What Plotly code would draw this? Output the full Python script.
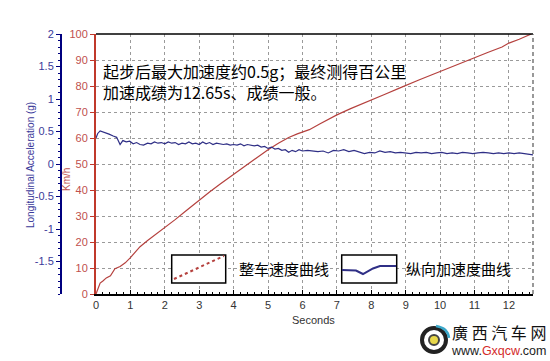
import plotly.graph_objects as go

# ---------------- data ----------------
speed_t = [0.00, 0.06, 0.12, 0.20, 0.30, 0.42, 0.55, 0.70, 0.85, 1.00, 1.15, 1.28, 1.50, 1.75,
           2.00, 2.30, 2.60, 3.00, 3.30, 3.60, 4.00, 4.40, 4.70, 5.00, 5.30, 5.60, 5.85, 6.20,
           6.50, 6.80, 7.00, 7.40, 7.80, 8.00, 8.40, 8.80, 9.00, 9.40, 9.80, 10.00, 10.40, 10.80,
           11.00, 11.40, 11.80, 12.00, 12.30, 12.65]
speed_v = [0.0, 2.5, 4.2, 5.0, 6.2, 7.0, 9.7, 10.6, 12.0, 14.0, 16.2, 18.2, 20.6, 23.0,
           25.4, 28.6, 31.8, 36.2, 39.2, 42.2, 46.0, 49.8, 52.7, 55.5, 58.0, 60.2, 61.6, 63.2,
           65.4, 67.6, 68.9, 71.3, 73.4, 74.6, 76.8, 79.1, 80.3, 82.4, 84.5, 85.6, 87.7, 89.8,
           90.9, 93.0, 95.0, 96.5, 98.0, 100.0]

acc_t = [0.00, 0.05, 0.12, 0.25, 0.38, 0.50, 0.60, 0.70, 0.78, 0.88, 0.98, 1.08, 1.18, 1.28,
         1.38, 1.50, 1.60, 1.70, 1.80, 1.90, 2.00, 2.10, 2.20, 2.30, 2.40, 2.50, 2.60, 2.70,
         2.80, 2.90, 3.00, 3.10, 3.20, 3.30, 3.40, 3.50, 3.60, 3.70, 3.80, 3.90, 4.00, 4.10,
         4.20, 4.30, 4.40, 4.50, 4.60, 4.70, 4.80, 4.90, 5.00, 5.10, 5.20, 5.30, 5.40, 5.50,
         5.60, 5.70, 5.80, 5.90, 6.00, 6.15, 6.30, 6.45, 6.60, 6.75, 6.90, 7.05, 7.20, 7.35,
         7.50, 7.65, 7.80, 7.95, 8.10, 8.25, 8.40, 8.55, 8.70, 8.85, 9.00, 9.15, 9.30, 9.45,
         9.60, 9.75, 9.90, 10.05, 10.20, 10.35, 10.50, 10.65, 10.80, 10.95, 11.10, 11.25,
         11.40, 11.55, 11.70, 11.85, 12.00, 12.15, 12.30, 12.45, 12.60, 12.70]
acc_g = [0.40, 0.47, 0.51, 0.49, 0.46, 0.43, 0.41, 0.30, 0.36, 0.34, 0.35, 0.31, 0.33, 0.30,
         0.29, 0.32, 0.31, 0.34, 0.32, 0.33, 0.31, 0.34, 0.32, 0.33, 0.30, 0.32, 0.31, 0.34,
         0.31, 0.32, 0.30, 0.34, 0.31, 0.33, 0.30, 0.32, 0.31, 0.30, 0.31, 0.29, 0.30, 0.29,
         0.31, 0.28, 0.30, 0.29, 0.28, 0.29, 0.26, 0.27, 0.24, 0.26, 0.23, 0.24, 0.21, 0.22,
         0.18, 0.21, 0.19, 0.22, 0.20, 0.21, 0.20, 0.19, 0.20, 0.17, 0.21, 0.20, 0.22, 0.19,
         0.21, 0.18, 0.16, 0.18, 0.17, 0.20, 0.18, 0.19, 0.17, 0.18, 0.17, 0.16, 0.18, 0.17,
         0.18, 0.16, 0.17, 0.18, 0.16, 0.17, 0.16, 0.18, 0.17, 0.16, 0.17, 0.18,
         0.17, 0.16, 0.17, 0.16, 0.17, 0.16, 0.17, 0.16, 0.15, 0.14]

x_ticks = list(range(0, 13))
speed_ticks = list(range(0, 101, 10))
acc_ticks = [-1.5, -1, -0.5, 0, 0.5, 1, 1.5, 2]
acc_labels = ["-1.5", "-1", "-0.5", "0", "0.5", "1", "1.5", "2"]

note_line1 = "起步后最大加速度约0.5g；最终测得百公里"
note_line2 = "加速成绩为12.65s、成绩一般。"
legend_speed = "整车速度曲线"
legend_acc = "纵向加速度曲线"

# ---------------- layout helpers ----------------
W, H = 550, 361
ML, MR, MT, MB = 50, 17, 34, 67
PW = W - ML - MR
PH = H - MT - MB


def px(x):
    return (x - ML) / PW


def py(y):
    return (H - MB - y) / PH


RED = "#b5413e"
RED_TXT = "#c0504d"
NAVY = "#00007f"
BLUE_LINE = "#2f2f86"
BLUE_TXT = "#3a3a9a"
CJK = "Noto Sans CJK SC"
SANS = "Liberation Sans, Arial, sans-serif"

fig = go.Figure()
fig.add_trace(go.Scatter(x=speed_t, y=speed_v, mode="lines",
                         line=dict(color=RED, width=1.2), yaxis="y", showlegend=False))
fig.add_trace(go.Scatter(x=acc_t, y=acc_g, mode="lines",
                         line=dict(color=BLUE_LINE, width=1.2), yaxis="y2", showlegend=False))

fig.update_layout(
    width=W, height=H,
    margin=dict(l=ML, r=MR, t=MT, b=MB),
    paper_bgcolor="white", plot_bgcolor="white",
    showlegend=False,
    xaxis=dict(domain=[px(96), 1], range=[0, 12.7], tickvals=x_ticks,
               showline=True, linecolor="black", linewidth=2,
               ticks="inside", ticklen=4, tickcolor="black",
               minor=dict(dtick=0.2, ticks="inside", ticklen=2, tickcolor="black", showgrid=False),
               showgrid=True, gridcolor="#9a9a9a", griddash="3px,3px", gridwidth=1,
               zeroline=False, tickfont=dict(family=SANS, size=11, color="#333")),
    yaxis=dict(range=[0, 100], tickvals=speed_ticks, side="left",
               showline=True, linecolor="#c0392b", linewidth=2,
               ticks="outside", ticklen=4, tickcolor="#c0392b",
               showgrid=True, gridcolor="#9a9a9a", griddash="3px,3px", gridwidth=1,
               zeroline=False, tickfont=dict(family=SANS, size=11, color=RED_TXT)),
    yaxis2=dict(range=[-2, 2], overlaying="y", side="left", anchor="free", position=px(61),
                tickvals=acc_ticks, ticktext=acc_labels,
                showline=True, linecolor=NAVY, linewidth=2,
                ticks="outside", ticklen=4, tickcolor=NAVY,
                minor=dict(dtick=0.1, ticks="outside", ticklen=2, tickcolor=NAVY),
                showgrid=False, zeroline=False,
                tickfont=dict(family=SANS, size=11, color=BLUE_TXT)),
)

shapes = []
# top border and right dashed border
shapes.append(dict(type="line", xref="paper", yref="paper", x0=px(96), x1=1, y0=1, y1=1,
                   line=dict(color="black", width=1.5)))
shapes.append(dict(type="line", xref="paper", yref="paper", x0=1, x1=1, y0=0, y1=1,
                   line=dict(color="#555", width=1.2, dash="4px,3px")))
# legend boxes
shapes.append(dict(type="rect", xref="paper", yref="paper", x0=px(171.7), x1=px(225.7),
                   y0=py(283), y1=py(255), line=dict(color="black", width=1.5), fillcolor="white"))
shapes.append(dict(type="line", xref="paper", yref="paper", x0=px(174), x1=px(224),
                   y0=py(279), y1=py(256), line=dict(color=RED, width=2, dash="dot")))
shapes.append(dict(type="rect", xref="paper", yref="paper", x0=px(341.7), x1=px(396.7),
                   y0=py(283), y1=py(255), line=dict(color="black", width=1.5), fillcolor="white"))
path = "M {:.4f},{:.4f} L {:.4f},{:.4f} L {:.4f},{:.4f} L {:.4f},{:.4f} L {:.4f},{:.4f} L {:.4f},{:.4f}".format(
    px(342), py(270), px(356), py(270.5), px(363), py(274), px(373), py(268.5), px(380), py(266), px(396), py(266))
shapes.append(dict(type="path", xref="paper", yref="paper", path=path,
                   line=dict(color=BLUE_LINE, width=2)))
# watermark logo
shapes.append(dict(type="circle", xref="paper", yref="paper", x0=px(422), x1=px(446),
                   y0=py(352), y1=py(328), line=dict(color="#222", width=4), fillcolor="white"))
shapes.append(dict(type="path", xref="paper", yref="paper",
                   path="M {:.4f},{:.4f} Q {:.4f},{:.4f} {:.4f},{:.4f}".format(
                       px(436), py(326), px(448), py(328), px(449), py(338)),
                   line=dict(color="#3aa7c9", width=2.5)))
shapes.append(dict(type="circle", xref="paper", yref="paper", x0=px(429), x1=px(439),
                   y0=py(345), y1=py(335), line=dict(color="#444", width=2), fillcolor="#e8d84a"))
fig.update_layout(shapes=shapes)

ann = []
ann.append(dict(text=note_line1 + "<br>" + note_line2, x=px(101), y=py(81.5), xref="paper", yref="paper",
                xanchor="left", yanchor="middle", align="left", showarrow=False,
                font=dict(family=CJK, size=16, color="black")))
ann.append(dict(text=legend_speed, x=px(237), y=py(268), xref="paper", yref="paper",
                xanchor="left", yanchor="middle", showarrow=False,
                font=dict(family=CJK, size=15, color="black")))
ann.append(dict(text=legend_acc, x=px(404), y=py(268), xref="paper", yref="paper",
                xanchor="left", yanchor="middle", showarrow=False,
                font=dict(family=CJK, size=15, color="black")))
ann.append(dict(text="Longitudinal Acceleration (g)", x=px(30), y=py(165), xref="paper", yref="paper",
                xanchor="center", yanchor="middle", textangle=-90, showarrow=False,
                font=dict(family=SANS, size=10, color=BLUE_TXT)))
ann.append(dict(text="Km/h", x=px(66), y=py(180), xref="paper", yref="paper",
                xanchor="center", yanchor="middle", textangle=-90, showarrow=False,
                font=dict(family=SANS, size=10, color=RED_TXT)))
ann.append(dict(text="Seconds", x=px(313), y=py(320), xref="paper", yref="paper",
                xanchor="center", yanchor="middle", showarrow=False,
                font=dict(family=SANS, size=11, color="#333")))
ann.append(dict(text="<span style='font-family:Noto Sans CJK SC;font-size:16px;color:#111'>廣 西 汽 车 网</span>"
                     "<br>www.<span style='color:#d42a2a'>Gxqcw</span>.com",
                x=px(498), y=py(339), xref="paper", yref="paper", xanchor="center", yanchor="middle",
                align="center", showarrow=False,
                font=dict(family=SANS, size=12.5, color="#222")))
fig.update_layout(annotations=ann)

fig.write_html("out.html", config={"displayModeBar": False},
               post_script="document.body.style.margin='0';document.body.style.padding='0';")
